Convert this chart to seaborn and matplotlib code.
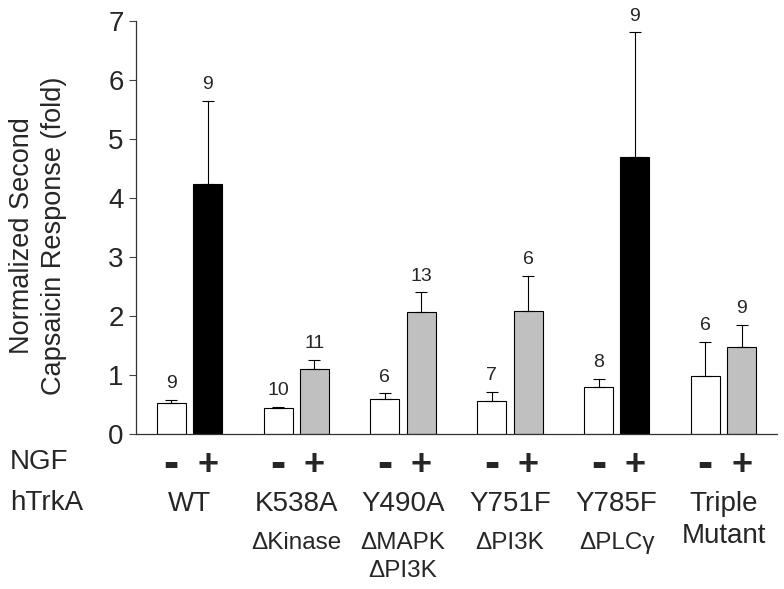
import seaborn as sns
import pandas as pd
import numpy as np
import matplotlib
matplotlib.use("Agg")
import matplotlib.pyplot as plt
from matplotlib.transforms import blended_transform_factory

# data
groups = ["WT", "K538A", "Y490A", "Y751F", "Y785F", "Triple"]
group_labels = ["WT", "K538A", "Y490A", "Y751F", "Y785F", "Triple\nMutant"]
sub_labels = ["", "\u0394Kinase", "\u0394MAPK\n\u0394PI3K", "\u0394PI3K", "\u0394PLC\u03b3", ""]

minus_mean = [0.52, 0.44, 0.60, 0.56, 0.79, 0.98]
minus_err = [0.06, 0.02, 0.09, 0.15, 0.15, 0.58]
minus_n = [9, 10, 6, 7, 8, 6]

plus_mean = [4.24, 1.10, 2.06, 2.08, 4.69, 1.47]
plus_err = [1.40, 0.15, 0.34, 0.60, 2.11, 0.38]
plus_n = [9, 11, 13, 6, 9, 9]
plus_colors = ["black", "#c0c0c0", "#c0c0c0", "#c0c0c0", "black", "#c0c0c0"]

df = pd.DataFrame({
    "group": groups * 2,
    "NGF": ["-"] * 6 + ["+"] * 6,
    "value": minus_mean + plus_mean,
})

sns.set_style("white")
plt.rcParams["font.family"] = ["Liberation Sans", "DejaVu Sans"]

fig = plt.figure(figsize=(7.84, 5.89), dpi=100)
ax = fig.add_axes([0.1735, 0.263, 0.8175, 0.702])

sns.barplot(data=df, x="group", y="value", hue="NGF", order=groups,
            hue_order=["-", "+"], width=0.68, gap=0.2, errorbar=None,
            edgecolor="black", linewidth=0.8, legend=False, ax=ax)

# recolour bars: white for -, black/grey for +
for p in ax.containers[0]:
    p.set_facecolor("white")
for p, c in zip(ax.containers[1], plus_colors):
    p.set_facecolor(c)

# one-sided error bars and n labels
for cont, errs, ns in [(ax.containers[0], minus_err, minus_n),
                       (ax.containers[1], plus_err, plus_n)]:
    xs = [p.get_x() + p.get_width() / 2 for p in cont]
    hs = [p.get_height() for p in cont]
    ax.errorbar(xs, hs, yerr=[np.zeros(len(errs)), errs], fmt="none",
                ecolor="black", elinewidth=0.8, capsize=4.3, capthick=0.8)
    for x, h, e, n in zip(xs, hs, errs, ns):
        ax.annotate(str(n), (x, h + e), xytext=(0, 8.5), textcoords="offset points",
                    ha="center", va="baseline", fontsize=14)

ax.set_ylim(0, 7)
ax.set_xlim(-0.5, 5.5)
ax.set_yticks(range(8))
ax.tick_params(axis="y", labelsize=20, direction="out", length=5, width=0.8,
               color="#444444", left=True, pad=4)
ax.tick_params(axis="x", bottom=False, labelbottom=False)
ax.set_xlabel("")
ax.set_ylabel("Normalized Second\nCapsaicin Response (fold)", fontsize=19.5,
              linespacing=1.3)
ax.yaxis.set_label_coords(-0.107, 0.48)
sns.despine(ax=ax, top=True, right=True)
for s in ["left", "bottom"]:
    ax.spines[s].set_color("#333333")
    ax.spines[s].set_linewidth(0.9)

# labels under the axis
tr = blended_transform_factory(ax.transData, fig.transFigure)
for cont, sign, size in [(ax.containers[0], "-", 33), (ax.containers[1], "+", 26)]:
    for p in cont:
        ax.text(p.get_x() + p.get_width() / 2, 1 - 465 / 589, sign, transform=tr,
                ha="center", va="center", fontsize=size, fontweight="bold")

for i, (g, s) in enumerate(zip(group_labels, sub_labels)):
    ax.text(i, 1 - 491 / 589, g, transform=tr, ha="center", va="top",
            fontsize=20, linespacing=1.3)
    if s:
        ax.text(i, 1 - 532 / 589, s, transform=tr, ha="center", va="top",
                fontsize=17.5, linespacing=1.35)

fig.text(10 / 784, 1 - 462 / 589, "NGF", ha="left", va="center", fontsize=20)
fig.text(10 / 784, 1 - 503 / 589, "hTrkA", ha="left", va="center", fontsize=20)

fig.savefig("out.png", dpi=100)
